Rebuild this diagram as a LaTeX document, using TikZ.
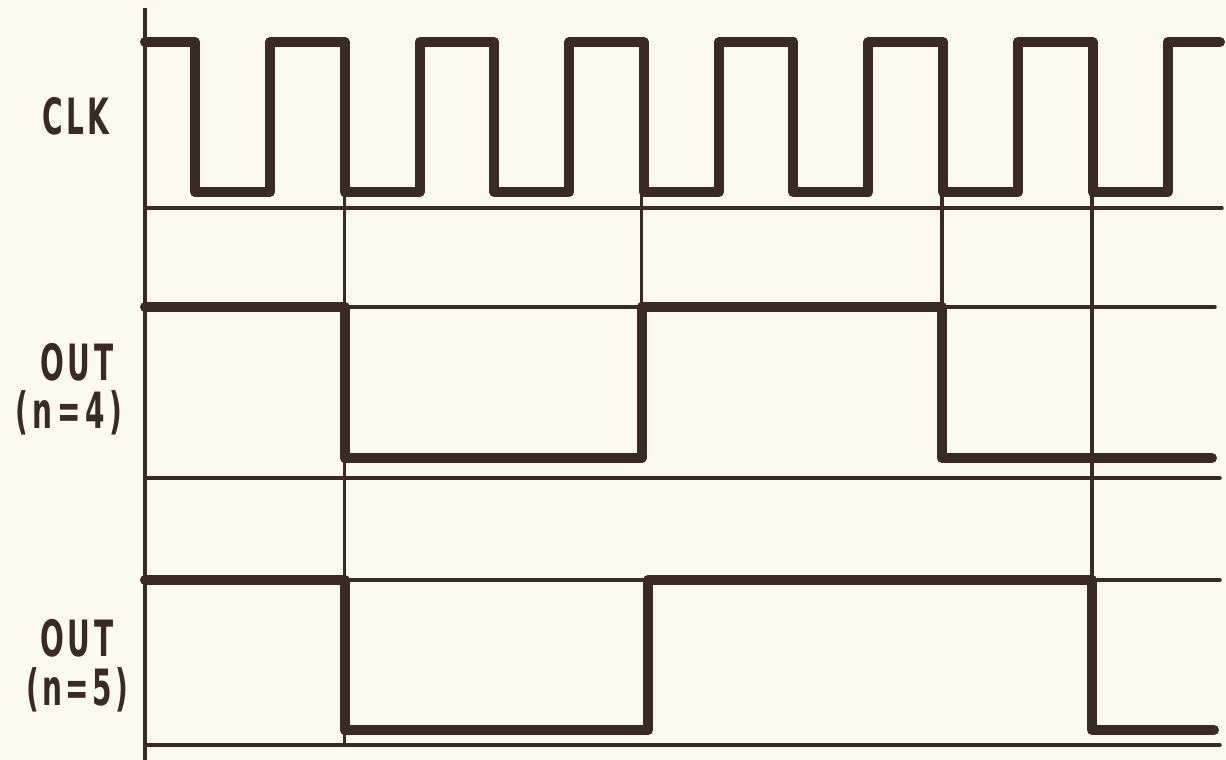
\documentclass[tikz,border=0pt]{standalone}
\usepackage{fontspec}
\newfontfamily\labelfont[LetterSpace=12]{DejaVu Sans}
\definecolor{ink}{RGB}{58,42,38}
\definecolor{paper}{RGB}{252,249,240}
\begin{document}
\begin{tikzpicture}[x=1pt,y=-1pt,
  thin grid/.style={draw=ink,line width=3.5pt,line cap=round},
  wave/.style={draw=ink,line width=10pt,line join=round,line cap=round},
  axisline/.style={draw=ink,line width=4pt},
  lbl/.style={text=ink,inner sep=0pt,font=\labelfont\bfseries\fontsize{50}{56}\selectfont}]
\fill[paper] (0,0) rectangle (1226,760);
\useasboundingbox (0,0) rectangle (1226,760);
% axis
\draw[axisline] (145,8) -- (145,760);
% horizontal grid
\draw[thin grid] (145,208) -- (1222,208);
\draw[thin grid] (145,307) -- (1215,307);
\draw[thin grid] (145,478) -- (1220,478);
\draw[thin grid] (145,580) -- (1220,580);
\draw[thin grid] (145,745) -- (1220,745);
% vertical grid
\draw[thin grid] (344.6,192) -- (344.6,745);
\draw[thin grid] (641.5,192) -- (641.5,307);
\draw[thin grid] (942,192) -- (942,307);
\draw[thin grid] (1092,192) -- (1092,580);
% CLK
\draw[wave] (145,42)
  \foreach \k in {0,...,6}{
    -- ({195+149.6*\k},42) -- ({195+149.6*\k},192)
    -- ({270+149.6*\k},192) -- ({270+149.6*\k},42)
  } -- (1220,42);
% OUT n=4
\draw[wave] (145,307) -- (344.6,307) -- (344.6,458) -- (641.5,458)
  -- (641.5,307) -- (942,307) -- (942,458) -- (1212,458);
% OUT n=5
\draw[wave] (145,580) -- (344.6,580) -- (344.6,730) -- (648,730)
  -- (648,580) -- (1092,580) -- (1092,730) -- (1214,730);
% labels
\node[lbl] (clk) at (76,116) {\scalebox{0.56}[1]{CLK}};
\node[lbl] (out4) at (77,362) {\scalebox{0.56}[1]{OUT}};
\node[lbl] (n4) at (69,413) {\scalebox{0.56}[1]{(\,n\,=\,4\,)}};
\node[lbl] (out5) at (77,638) {\scalebox{0.56}[1]{OUT}};
\node[lbl] (n5) at (77,690) {\scalebox{0.56}[1]{(n=5)}};
\end{tikzpicture}
\end{document}
